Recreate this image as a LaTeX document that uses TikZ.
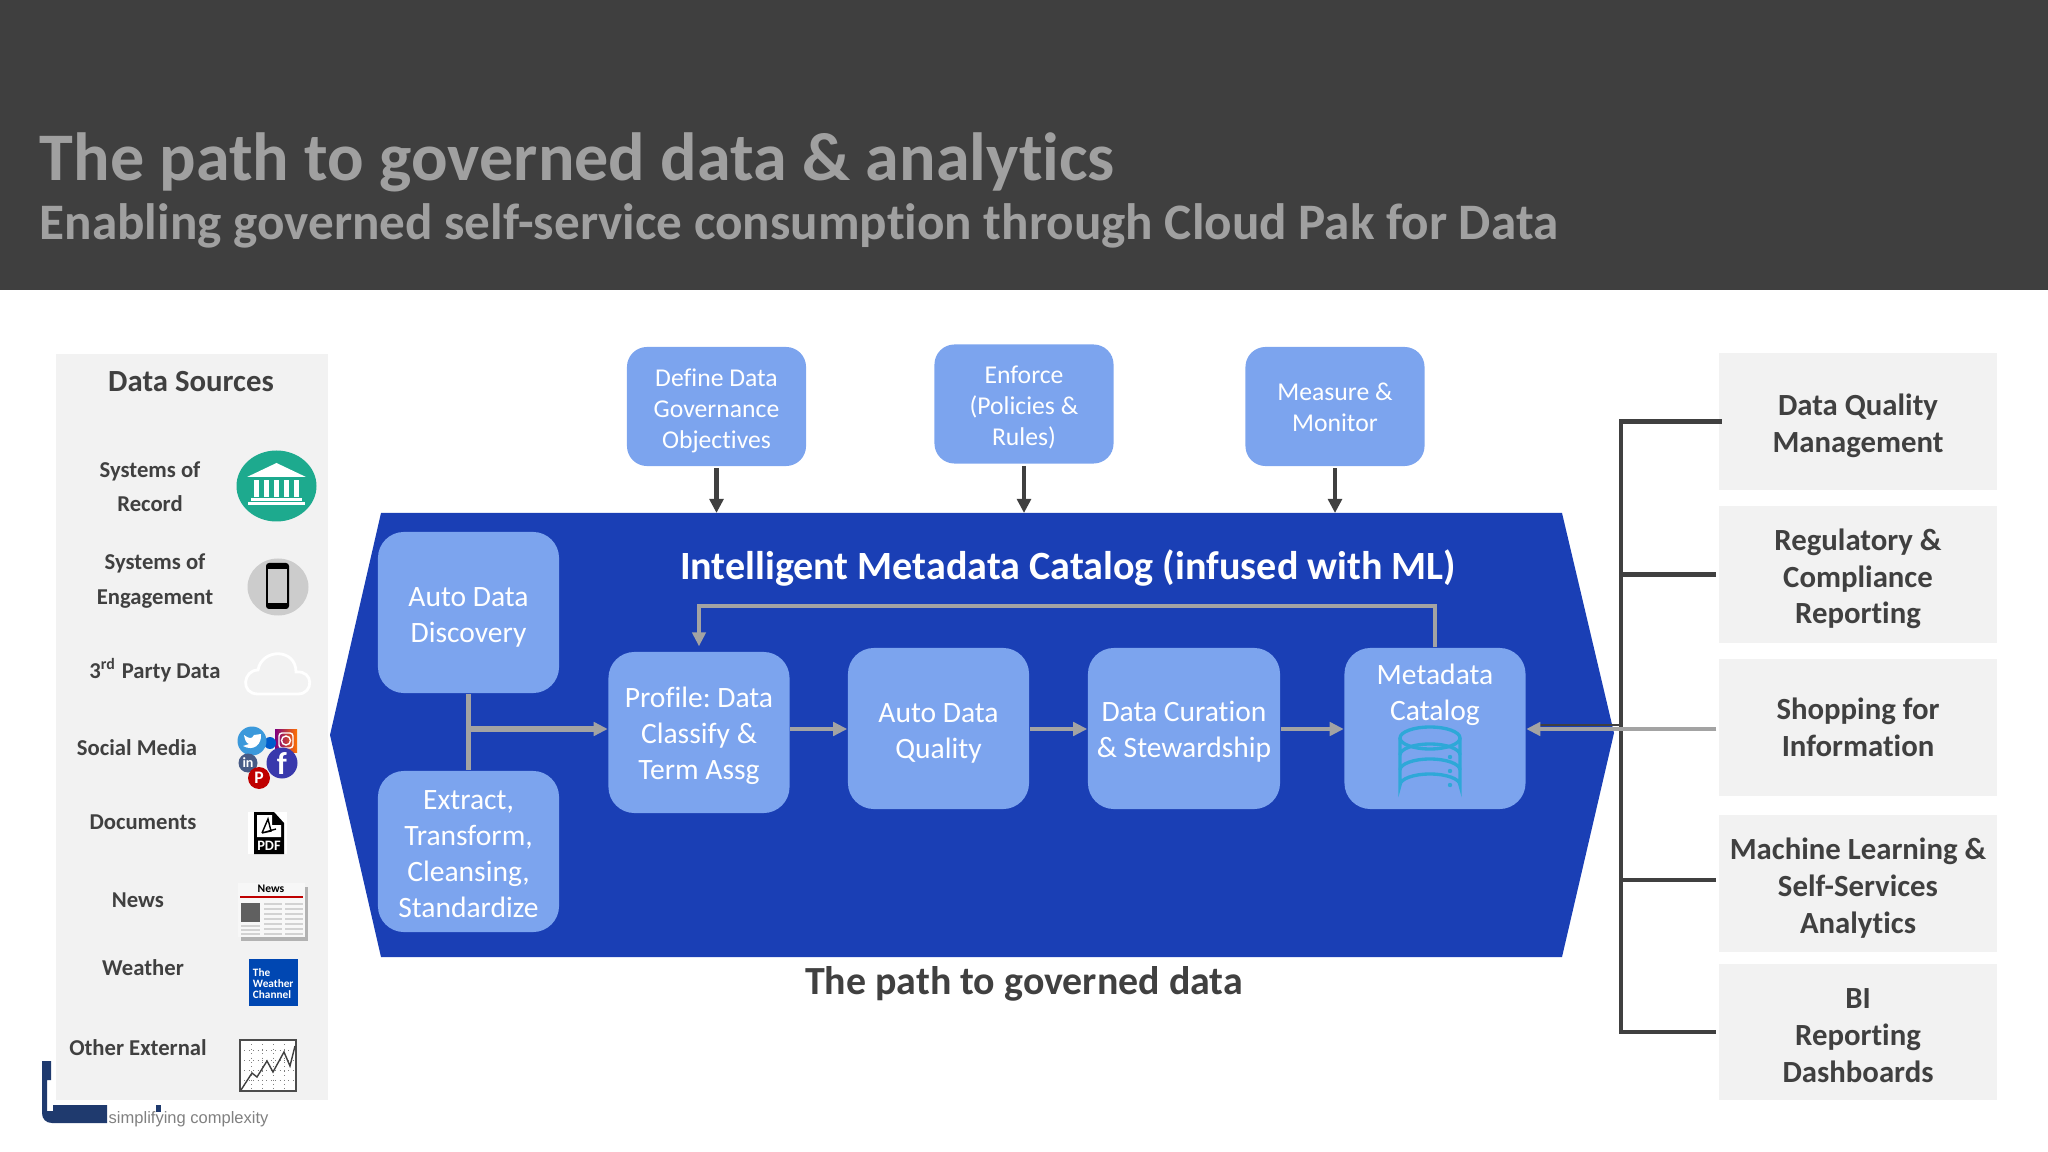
\documentclass[tikz,border=0pt]{standalone}
\usepackage{fontspec}
\setmainfont[Ligatures=CommonOff]{Carlito}
\newfontfamily\logofont{Liberation Sans}
\usetikzlibrary{arrows.meta}
\definecolor{headgray}{HTML}{3F3F3F}
\definecolor{titlegray}{HTML}{A0A0A0}
\definecolor{panelgray}{HTML}{F2F2F2}
\definecolor{inkgray}{HTML}{404040}
\definecolor{flowgray}{HTML}{A3A3A3}
\definecolor{catalogblue}{HTML}{1A3FB5}
\definecolor{boxblue}{HTML}{7CA4EE}
\definecolor{logonavy}{HTML}{1F3A6E}
\definecolor{dbcyan}{HTML}{2EA8D8}
\definecolor{bankgreen}{HTML}{1DAA8E}
\newcommand{\dropln}[1]{\rule{0pt}{#1pt}}
\tikzset{
  flowbox/.style={fill=boxblue,rounded corners=0.26cm,inner sep=0pt,align=center,text=white,minimum width=1.81cm,minimum height=1.61cm,font=\fontsize{8.4}{10.2}\selectfont},
  topbox/.style={flowbox,minimum width=1.79cm,minimum height=1.19cm,rounded corners=0.2cm,font=\fontsize{7.3}{8.9}\selectfont},
  goalbox/.style={fill=panelgray,inner sep=0pt,align=center,text=inkgray,minimum width=2.78cm,font=\bfseries\fontsize{8.75}{10.5}\selectfont},
  srclabel/.style={inner sep=0pt,align=center,text=inkgray,font=\bfseries\fontsize{6.45}{9.7}\selectfont},
  flowline/.style={draw=flowgray,line width=1.3pt,-{Triangle[length=4pt,width=3.8pt]}},
  flowstem/.style={draw=flowgray,line width=1.5pt},
  pushline/.style={draw=inkgray,line width=1.3pt,-{Triangle[length=4pt,width=3.9pt]}},
  busline/.style={draw=inkgray,line width=1.3pt},
  minilabel/.style={inner sep=0pt,text=white,font=\bfseries\fontsize{3}{3.2}\selectfont}
}
\begin{document}
\frenchspacing
\begin{tikzpicture}[x=0.01cm,y=-0.01cm]
  \useasboundingbox (0,0) rectangle (2048,1152);
  %header
  \fill[headgray] (0,0) rectangle (2048,290);
  \node[anchor=base west,inner sep=0pt,text=titlegray,font=\bfseries\fontsize{19.37}{21}\selectfont] (title) at (39,180.5) {The path to governed data \& analytics};
  \node[anchor=base west,inner sep=0pt,text=titlegray,font=\bfseries\fontsize{14.55}{16}\selectfont] (subtitle) at (39,239.5) {Enabling governed self-service consumption through Cloud Pak for Data};

  %data sources
  \fill[panelgray] (56,354) rectangle (328,1100);
  \node[srclabel,font=\bfseries\fontsize{8.75}{10}\selectfont] (srchead) at (191,382) {Data Sources};
  \node[srclabel] (srcrecord) at (150,487) {Systems of\\Record};
  \node[srclabel] (srcengage) at (155,581) {Systems of\\Engagement};
  \node[srclabel] (srcparty) at (155,670) {3\textsuperscript{rd} Party Data};
  \node[srclabel] (srcsocial) at (137,748) {Social Media};
  \node[srclabel] (srcdocs) at (143,822) {Documents};
  \node[srclabel] (srcnews) at (138,900) {News};
  \node[srclabel] (srcweather) at (143,968) {Weather};
  \node[srclabel] (srcother) at (138,1048) {Other External};
  %bank
  \fill[bankgreen] (276.5,486) ellipse (40 and 35.5);
  \fill[white] (276.5,463) -- (306,477) -- (247,477) -- cycle;
  \foreach \colx in {256,266,276,286,296}{
    \fill[white] (\colx-2.5,480) rectangle (\colx+2.5,497);
  }
  \fill[white] (251,498) rectangle (302,501);
  \fill[white] (248,502) rectangle (305,505);
  %phone
  \fill[gray!40] (278,587) ellipse (30.5 and 28.5);
  \fill[black,rounded corners=0.03cm] (266,563) rectangle (289,609);
  \fill[gray!40] (268,569) rectangle (287,603);
  %cloud
  \draw[white,line width=0.8pt] (258,694) .. controls (240,694) and (243,670) .. (258,670) .. controls (262,648) and (296,648) .. (296,672) .. controls (314,670) and (314,694) .. (298,694) -- cycle;
  %social
  \shade[left color=violet,right color=orange!90!red] (275,729) rectangle (297,752);
  \draw[white,line width=0.4pt] (286,740.5) circle (4.5);
  \draw[white,line width=0.4pt,rounded corners=0.03cm] (279,733) rectangle (293,748);
  \fill[blue!55!cyan!80!black] (270,743) circle (6);
  \fill[cyan!70!blue!80!white] (252,741) circle (14.5);
  \fill[white] (243,746) .. controls (254,752) and (262,744) .. (261,734) -- (254,735) .. controls (252,740) and (248,738) .. (244,735) .. controls (245,740) and (246,743) .. (249,744) -- cycle;
  \fill[blue!50!gray!90!black] (282,763) circle (15.5);
  \node[minilabel,font=\bfseries\fontsize{9}{9}\selectfont] (fbmark) at (282,764) {f};
  \fill[cyan!40!blue!60!black] (248,763) circle (9.5);
  \node[minilabel,font=\bfseries\fontsize{4}{4}\selectfont] (linmark) at (248,763) {in};
  \fill[red!75!black] (259,778) circle (11);
  \node[minilabel,font=\bfseries\fontsize{5}{5}\selectfont] (pinmark) at (259,778) {P};
  %pdf
  \fill[white] (248,812) rectangle (287,854);
  \fill[black] (254,812) -- (274,812) -- (284,823) -- (284,854) -- (254,854) -- cycle;
  \fill[white] (257,815) -- (272,815) -- (272,825) -- (281,825) -- (281,837) -- (257,837) -- cycle;
  \draw[black,line width=0.4pt] (262,833) -- (268,819) -- (271,831) -- (262,833) -- (276,829);
  \node[minilabel,font=\bfseries\fontsize{4.1}{4.1}\selectfont] (pdfmark) at (269,846) {PDF};
  %news
  \fill[gray!60] (241,887) rectangle (308,941);
  \fill[white!94!gray] (238,883) rectangle (305,937);
  \node[minilabel,text=black,font=\bfseries\fontsize{3.3}{3.3}\selectfont] (newsmark) at (271,889) {News};
  \fill[red!75!black] (240,896) rectangle (303,898);
  \fill[gray!75!black] (241,903) rectangle (260,922);
  \foreach \rowy in {904,909,...,934}{
    \draw[gray!35,line width=0.3pt] (264,\rowy) -- (282,\rowy) (285,\rowy) -- (303,\rowy);
  }
  \foreach \rowy in {926,930,934}{
    \draw[gray!35,line width=0.3pt] (241,\rowy) -- (260,\rowy);
  }
  %weather
  \node[fill=blue!60!cyan!70!black,minimum width=0.49cm,minimum height=0.47cm,inner sep=1pt,align=left,text=white,font=\bfseries\fontsize{3.2}{3.1}\selectfont,anchor=north west] (weathermark) at (248,958) {\\The\\Weather\\Channel};
  %chart
  \fill[white] (240,1040) rectangle (296,1091);
  \foreach \gridx in {251,262,273,284}{
    \draw[gray,line width=0.25pt,densely dotted] (\gridx,1040) -- (\gridx,1091);
  }
  \foreach \gridy in {1050,1060,1070,1080}{
    \draw[gray,line width=0.25pt,densely dotted] (240,\gridy) -- (296,\gridy);
  }
  \draw[black!70,line width=0.4pt] (240,1040) rectangle (296,1091);
  \draw[black!75,line width=0.4pt] (241,1090) -- (252,1073) -- (257,1077) -- (267,1061) -- (273,1072) -- (284,1052) -- (290,1066) -- (295,1046);
  %logo
  \fill[logonavy] (42,1061) -- (51,1061) -- (51,1080) -- (47,1080) -- (47,1111) -- (53,1111) -- (53,1105) -- (107,1105) -- (107,1123) -- (52,1123) .. controls (46,1123) and (42,1119) .. (42,1113) -- cycle;
  \fill[logonavy] (156,1105) rectangle (161,1112);
  \node[anchor=base west,inner sep=0pt,text=gray,font=\logofont\fontsize{4.7}{6}\selectfont] (logotext) at (108,1123) {simplifying complexity};

  %catalog
  \fill[catalogblue] (381,513) -- (1562,513) -- (1614,733) -- (1562,957) -- (381,957) -- (330,735) -- cycle;
  \coordinate (hextop) at (1000,513);
  \coordinate (flowrow) at (1000,729);
  \coordinate (loopmid) at (1000,606);
  \node[inner sep=0pt,text=white,font=\bfseries\fontsize{11.4}{12}\selectfont] (cataloghead) at (1068,568) {Intelligent Metadata Catalog (infused with ML)};
  \node[flowbox,at={(468.5,612.5)}] (discovery) {\dropln{8.4}Auto Data\\Discovery};
  \node[flowbox,at={(468.5,851.5)}] (extract) {\dropln{6.8}Extract,\\Transform,\\Cleansing,\\Standardize};
  \node[flowbox,at={(699,732.5)}] (profile) {\dropln{7.6}Profile: Data\\Classify \&\\Term Assg};
  \node[flowbox,at={(938.5,728.5)}] (quality) {\dropln{8.4}Auto Data\\Quality};
  \node[flowbox,minimum width=1.92cm,at={(1184,728.5)}] (curation) {\dropln{7.6}Data Curation\\\& Stewardship};
  \node[flowbox,at={(1435,728.5)}] (catalog) {Metadata\\Catalog\\~\\~};
  %database
  \begin{scope}[draw=dbcyan,line width=0.95pt]
    \draw (1400,738) -- (1400,785) arc[start angle=180,end angle=360,x radius=30,y radius=11] -- (1460,738);
    \draw (1430,738) ellipse (30 and 11);
    \draw (1400,755) arc[start angle=180,end angle=360,x radius=30,y radius=11];
    \draw (1400,770) arc[start angle=180,end angle=360,x radius=30,y radius=11];
  \end{scope}
  \foreach \doty in {757,771,785}{
    \fill[dbcyan] (1450,\doty) circle (2.2);
  }
  %flow
  \draw[flowstem] (discovery.south) -- (extract.north);
  \draw[flowline,line width=1.6pt] (discovery.south |- flowrow) -- (profile.west |- flowrow);
  \draw[flowline] (profile.east |- flowrow) -- (quality.west |- flowrow);
  \draw[flowline] (quality.east |- flowrow) -- (curation.west |- flowrow);
  \draw[flowline] (curation.east |- flowrow) -- (catalog.west |- flowrow);
  \draw[flowline,line width=1.4pt,shorten >=1.4pt] (catalog.north) |- (loopmid) -| (profile.north);

  %top
  \node[topbox,at={(716.5,406.5)}] (define) {\dropln{7.5}Define Data\\Governance\\Objectives};
  \node[topbox,at={(1024,404)}] (enforce) {\dropln{7.1}Enforce\\(Policies \&\\Rules)};
  \node[topbox,at={(1335,406.5)}] (measure) {\dropln{5.5}Measure \&\\Monitor};
  \draw[pushline,shorten <=0.5pt] (define.south) -- (define.south |- hextop);
  \draw[pushline,shorten <=0.5pt] (enforce.south) -- (enforce.south |- hextop);
  \draw[pushline,shorten <=0.5pt] (measure.south) -- (measure.south |- hextop);

  \node[inner sep=0pt,text=inkgray,font=\bfseries\fontsize{11.35}{12}\selectfont] (caption) at (1024,984) {The path to governed data};

  %right
  \node[goalbox,minimum height=1.37cm,at={(1858,421.5)}] (dqm) {\dropln{8.6}Data Quality\\Management};
  \node[goalbox,minimum height=1.37cm,at={(1858,574.5)}] (compliance) {\dropln{8.6}Regulatory \&\\Compliance\\Reporting};
  \node[goalbox,minimum height=1.37cm,at={(1858,727.5)}] (shopping) {Shopping for\\Information};
  \node[goalbox,minimum height=1.37cm,at={(1858,883.5)}] (mlself) {\dropln{8.6}Machine Learning \&\\Self-Services\\Analytics};
  \node[goalbox,minimum height=1.36cm,at={(1858,1032)}] (bidash) {\dropln{7.6}BI\\Reporting\\Dashboards};
  \coordinate (bustop) at (1621,421.5);
  \coordinate (busend) at (1621,1032);
  \coordinate (busml) at (1621,880);
  \draw[busline,line cap=rect] (bustop) -- (busend);
  \draw[busline,shorten >=-1pt] (bustop) -- (dqm.west);
  \draw[busline,shorten >=0.5pt] (bustop |- compliance.west) -- (compliance.west);
  \draw[busline,shorten >=0.5pt] (busml) -- (mlself.west |- busml);
  \draw[busline,shorten >=0.5pt] (busend) -- (bidash.west);
  \draw[draw=inkgray,line width=0.8pt] (bustop |- 0,725) -- (1540,725);
  \draw[flowline,shorten <=0.5pt] (shopping.west |- flowrow) -- (catalog.east |- flowrow);
\end{tikzpicture}
\end{document}
